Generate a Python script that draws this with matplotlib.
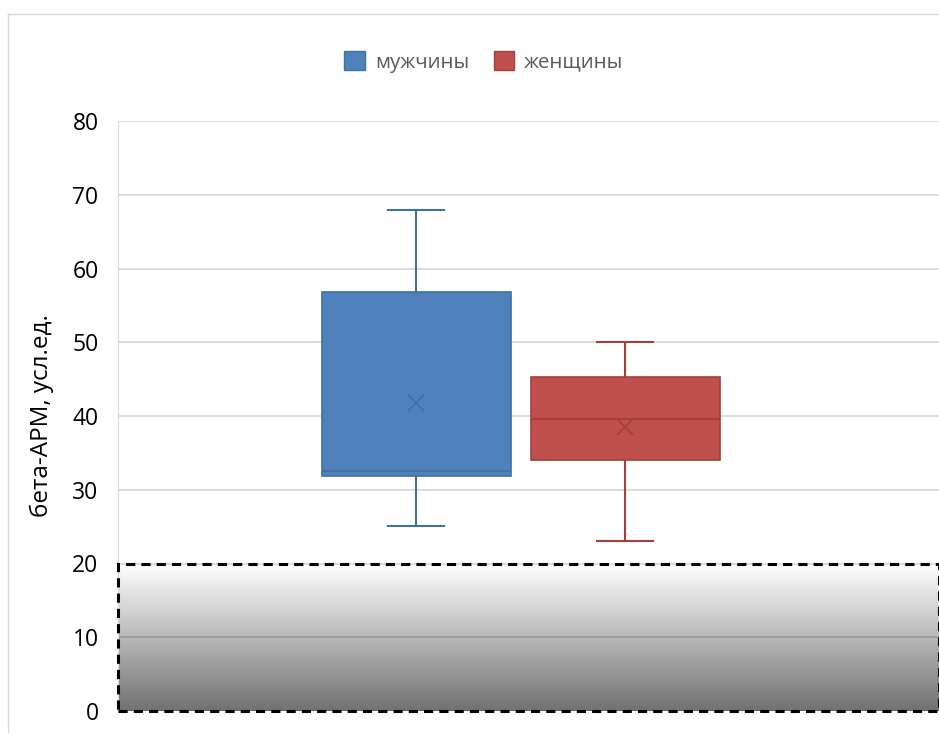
import numpy as np
import matplotlib.pyplot as plt
from matplotlib.patches import Patch, Rectangle
from matplotlib.lines import Line2D

# values
groups = ['мужчины', 'женщины']
whisker_low = [25.1, 23.1]
q1 = [31.8, 34.0]
medians = [32.5, 39.6]
q3 = [56.8, 45.3]
whisker_high = [68.0, 50.0]
means = [41.7, 38.5]
yticks = [0, 10, 20, 30, 40, 50, 60, 70, 80]
zone_top = 20  # shaded zone below the threshold

face_colors = ['#4F81BD', '#C0504D']
edge_colors = ['#41719C', '#A43F3C']

plt.rcParams['font.family'] = ['Open Sans', 'DejaVu Sans']

W, H = 939, 733
fig = plt.figure(figsize=(W / 100, H / 100), dpi=100)
ax = fig.add_axes([118 / W, (H - 711) / H, (W - 118) / W, 590 / H])

# outer chart-area border (cropped on the right and bottom)
fig.add_artist(Line2D([8 / W, 8 / W], [0, 1 - 14 / H], color='#d9d9d9', lw=1, transform=fig.transFigure))
fig.add_artist(Line2D([8 / W, 1], [1 - 14 / H, 1 - 14 / H], color='#d9d9d9', lw=1, transform=fig.transFigure))

positions = [0, 1]
xmin, xmax = -1.426, 2.502

for i in range(len(groups)):
    stats = [{
        'whislo': whisker_low[i], 'q1': q1[i], 'med': medians[i],
        'q3': q3[i], 'whishi': whisker_high[i], 'mean': means[i], 'fliers': [],
    }]
    ax.bxp(stats, positions=[positions[i]], widths=0.904, capwidths=0.27,
           patch_artist=True, showmeans=True, manage_ticks=False,
           boxprops=dict(facecolor=face_colors[i], edgecolor=edge_colors[i], linewidth=1.2),
           medianprops=dict(color=edge_colors[i], linewidth=1.5),
           whiskerprops=dict(color=edge_colors[i], linewidth=1.5),
           capprops=dict(color=edge_colors[i], linewidth=1.5),
           meanprops=dict(marker='x', markeredgecolor=edge_colors[i], markersize=12, markeredgewidth=1.3),
           zorder=3)

# gradient zone from 0 to the threshold: translucent black, darker toward 0
alpha = np.linspace(0.56, 0.0, 256)
grad = np.zeros((256, 1, 4))
grad[:, 0, 3] = alpha
ax.imshow(grad, aspect='auto', origin='lower', extent=[xmin, xmax, 0, zone_top], zorder=2)
ax.add_patch(Rectangle((xmin, 0), xmax - xmin, zone_top, fill=False, edgecolor='black',
                       linestyle=(0, (3, 2)), linewidth=2.2, zorder=4, clip_on=False))

ax.set_xlim(xmin, xmax)
ax.set_ylim(0, 80)
ax.set_yticks(yticks)
ax.set_xticks([])
ax.tick_params(axis='y', length=0, pad=14, labelsize=16.5, labelcolor='black')
ax.yaxis.grid(True, color='#d9d9d9', linewidth=1.3)
ax.set_axisbelow(True)
for side in ['top', 'right', 'bottom']:
    ax.spines[side].set_visible(False)
ax.spines['left'].set_color('#d9d9d9')
ax.set_ylabel('бета-АРМ, усл.ед.', fontsize=17.5)
ax.yaxis.set_label_coords(-64 / (W - 118), 0.5)

handles = [Patch(facecolor=face_colors[i], edgecolor=edge_colors[i], label=groups[i]) for i in range(len(groups))]
fig.legend(handles=handles, loc='center', bbox_to_anchor=(484 / W, 1 - 62 / H), ncol=2, frameon=False,
           fontsize=14.7, labelcolor='#595959', handlelength=1.0, handleheight=1.0,
           handletextpad=0.5, columnspacing=1.2)

fig.savefig('out.png', dpi=100, facecolor='white')
